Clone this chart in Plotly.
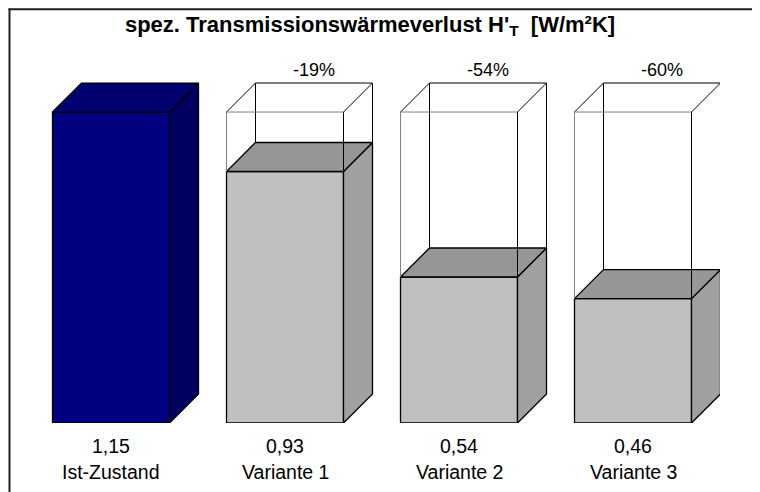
import plotly.graph_objects as go

# ---------------- data ----------------
categories = ["Ist-Zustand", "Variante 1", "Variante 2", "Variante 3"]
values = [1.15, 0.93, 0.54, 0.46]
value_labels = ["1,15", "0,93", "0,54", "0,46"]
change_labels = ["", "-19%", "-54%", "-60%"]
title_text = "spez. Transmissionswärmeverlust H'<sub>T</sub> &nbsp;[W/m²K]"

# ---------------- layout constants ----------------
OFF = 8                                # page body margin of the browser
W, H = 760, 492
ML, MT = 16, 36
PLOT_W = 696
PLOT_H = 379
MR = W - ML - PLOT_W
MB = H - MT - PLOT_H
PX_X = PLOT_W / 4.0                    # px per category unit
Y_TOP = 1.4016                         # y-range top
PX_Y = PLOT_H / Y_TOP                  # px per y unit
BAR_W = 117 / PX_X                     # front face width (x units)
DX = 29 / PX_X                         # depth offset x
DY = 29 / PX_Y                         # depth offset y
FONT = "Liberation Sans, Arial, sans-serif"

BASE_COLORS = dict(front="#000080", top="#000070", side="#000060")
VAR_COLORS = dict(front="#C0C0C0", top="#969696", side="#A0A0A0")


def px_to_paper_x(px):
    """screen px -> paper x"""
    return (px - OFF - ML) / PLOT_W


def px_to_paper_y(py):
    """screen px -> paper y"""
    return (H - MB - (py - OFF)) / PLOT_H


fig = go.Figure()


def poly(xs, ys, fill, lw=1.3, lc="#000000"):
    fig.add_trace(go.Scatter(
        x=xs + [xs[0]], y=ys + [ys[0]], mode="lines", fill="toself",
        fillcolor=fill, line=dict(color=lc, width=lw),
        hoverinfo="skip", showlegend=False))


def seg(x0, y0, x1, y1, color="#000000", lw=1):
    fig.add_trace(go.Scatter(
        x=[x0, x1], y=[y0, y1], mode="lines",
        line=dict(color=color, width=lw),
        hoverinfo="skip", showlegend=False))


ref = values[0]
for i, (cat, v) in enumerate(zip(categories, values)):
    c = BASE_COLORS if i == 0 else VAR_COLORS
    xl, xr = i - BAR_W / 2, i + BAR_W / 2
    # solid 3D bar
    poly([xl, xr, xr, xl], [0, 0, v, v], c["front"])
    poly([xr, xr + DX, xr + DX, xr], [0, DY, v + DY, v], c["side"])
    poly([xl, xr, xr + DX, xl + DX], [v, v, v + DY, v + DY], c["top"])
    if i > 0:
        # wireframe of the reference height
        seg(xl + DX, v + DY, xl + DX, ref + DY)
        seg(xr + DX, v + DY, xr + DX, ref + DY)
        seg(xl + DX, ref + DY, xr + DX, ref + DY)
        seg(xl, ref, xl + DX, ref + DY)
        seg(xr, ref, xr + DX, ref + DY)
        seg(xr, v, xr, ref)
        seg(xl, v, xl, ref, color="#808080")
        seg(xl, ref, xr, ref, color="#808080")
        fig.add_annotation(
            x=i + DX, y=ref + DY + 13 / PX_Y, text=change_labels[i],
            showarrow=False, xanchor="center", yanchor="middle",
            font=dict(family=FONT, size=18, color="#000000"))
    fig.add_annotation(
        x=i, xref="x", y=px_to_paper_y(446), yref="paper",
        text=value_labels[i], showarrow=False,
        xanchor="center", yanchor="middle",
        font=dict(family=FONT, size=19.5, color="#000000"))
    fig.add_annotation(
        x=i, xref="x", y=px_to_paper_y(472), yref="paper",
        text=cat, showarrow=False,
        xanchor="center", yanchor="middle",
        font=dict(family=FONT, size=19.5, color="#000000"))

# chart-area border: only its top and left edge fall inside the picture
BORDER = dict(color="#202020", width=2)
fig.add_shape(type="line", xref="paper", yref="paper",
              x0=px_to_paper_x(8.5), x1=px_to_paper_x(760),
              y0=px_to_paper_y(9.2), y1=px_to_paper_y(9.2),
              line=BORDER, layer="above")
fig.add_shape(type="line", xref="paper", yref="paper",
              x0=px_to_paper_x(9.5), x1=px_to_paper_x(9.5),
              y0=px_to_paper_y(8.5), y1=px_to_paper_y(492),
              line=BORDER, layer="above")

fig.update_layout(
    width=W, height=H,
    margin=dict(l=ML, r=MR, t=MT, b=MB),
    paper_bgcolor="#FFFFFF", plot_bgcolor="#FFFFFF",
    title=dict(text=title_text, x=(370 - OFF) / W, xref="container",
               xanchor="center", y=1 - (24 - OFF) / H, yref="container",
               yanchor="middle",
               font=dict(family=FONT, size=22, color="#000000", weight="bold")),
    xaxis=dict(range=[-0.5, 3.5], visible=False, fixedrange=True),
    yaxis=dict(range=[0, Y_TOP], visible=False, fixedrange=True),
    showlegend=False,
)

fig.write_html("out.html")
